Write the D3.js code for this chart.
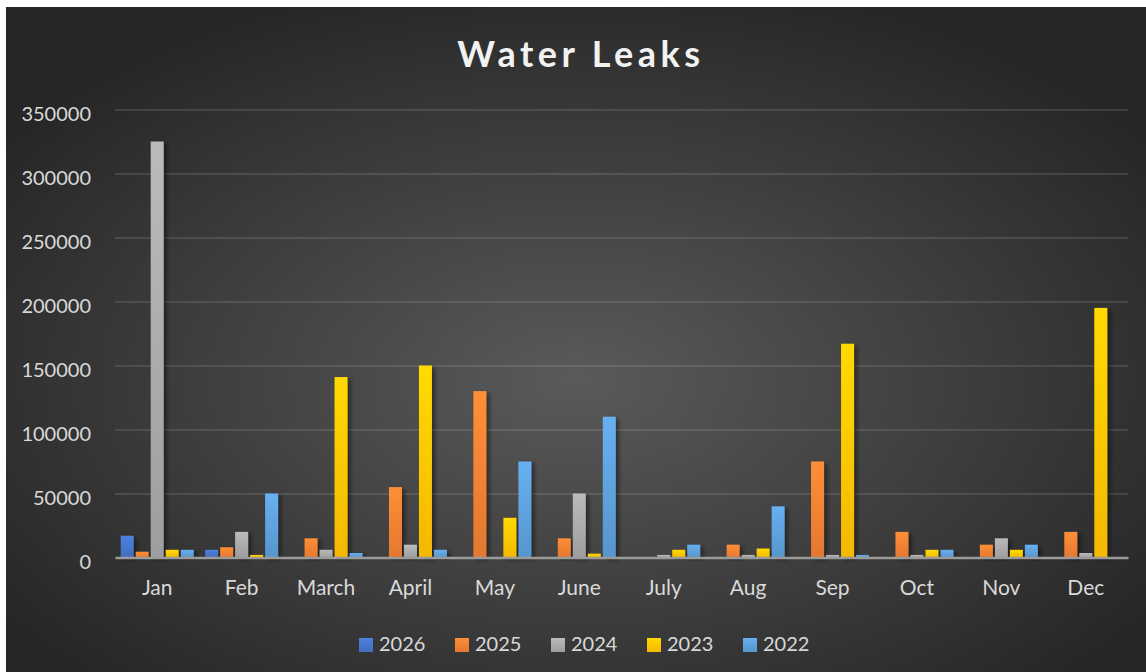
<!DOCTYPE html>
<html>
<head>
<meta charset="utf-8">
<script src="https://cdn.jsdelivr.net/npm/d3@7"></script>
<style>
  html,body{margin:0;padding:0;background:#fff;}
  svg{display:block;}
  text{font-family:Lato,"Open Sans",sans-serif;}
</style>
</head>
<body>
<svg id="chart" width="1146" height="672"></svg>
<script>
/* ---------------- データ ---------------- */
const months = ["Jan","Feb","March","April","May","June","July","Aug","Sep","Oct","Nov","Dec"];
const years  = ["2026","2025","2024","2023","2022"];
const colors = ["#4472C4","#ED7D31","#A5A5A5","#FFC000","#5B9BD5"];
const v2026 = [17000, 6000, 0, 0, 0, 0, 0, 0, 0, 0, 0, 0];
const v2025 = [4500, 8000, 15000, 55000, 130000, 15000, 0, 10000, 75000, 20000, 10000, 20000];
const v2024 = [325000, 20000, 6000, 10000, 0, 50000, 2000, 2000, 2000, 2000, 15000, 3500];
const v2023 = [6000, 2000, 141000, 150000, 31000, 3000, 6000, 7000, 167000, 6000, 6000, 195000];
const v2022 = [6000, 50000, 3500, 6000, 75000, 110000, 10000, 40000, 2000, 6000, 10000, 0];
const yTicks = [0, 50000, 100000, 150000, 200000, 250000, 300000, 350000];
const seriesVals = [v2026, v2025, v2024, v2023, v2022];

/* ---------------- レイアウト ---------------- */
const W = 1146, H = 672;
const plot = {left:115, right:1128, top:109.5, bottom:557.5};
const svg = d3.select("#chart");
const defs = svg.append("defs");

const bg = defs.append("radialGradient").attr("id","bg")
  .attr("cx","50%").attr("cy","56%").attr("r","62%");
bg.append("stop").attr("offset","0%").attr("stop-color","#5a5a5a");
bg.append("stop").attr("offset","100%").attr("stop-color","#262626");

years.forEach((y,i)=>{
  const g = defs.append("linearGradient").attr("id","g"+y)
    .attr("x1",0).attr("y1",0).attr("x2",0).attr("y2",1);
  g.append("stop").attr("offset","0%").attr("stop-color", d3.color(colors[i]).brighter(0.35));
  g.append("stop").attr("offset","100%").attr("stop-color", d3.color(colors[i]).darker(0.12));
});

const sh = defs.append("filter").attr("id","shadow")
  .attr("x","-30%").attr("y","-10%").attr("width","180%").attr("height","130%");
sh.append("feDropShadow").attr("dx",3).attr("dy",2).attr("stdDeviation",2)
  .attr("flood-color","#000").attr("flood-opacity",0.45);

svg.append("rect").attr("x",6).attr("y",7).attr("width",W-6).attr("height",H-7)
  .attr("fill","url(#bg)");

/* ---------------- スケール ---------------- */
const x0 = d3.scaleBand().domain(months).range([plot.left, plot.right]);
const c = x0.bandwidth()/2;
const x1 = d3.scaleBand().domain(years).range([c-36.5, c+36.5]).paddingInner(2/15);
const y = d3.scaleLinear().domain([0,350000]).range([plot.bottom, plot.top]);

/* グリッド + Y軸 */
const yAxis = svg.append("g").attr("transform",`translate(${plot.left},0)`)
  .call(d3.axisLeft(y).tickValues(yTicks).tickFormat(d3.format("d"))
    .tickSize(-(plot.right-plot.left)).tickPadding(24));
yAxis.select(".domain").remove();
yAxis.selectAll("line").attr("stroke","rgba(255,255,255,0.11)").attr("stroke-width",2)
  .filter(d=>d===0).remove();
yAxis.selectAll("text").attr("fill","#d9d9d9").attr("font-size",20)
  .attr("dy","0.55em");

/* ---------------- 棒 ---------------- */
const groups = svg.append("g").selectAll("g").data(months).join("g")
  .attr("transform", d=>`translate(${x0(d)},0)`);
groups.selectAll("rect")
  .data((m,mi)=>years.map((yr,si)=>({yr, v:seriesVals[si][mi]})).filter(d=>d.v>0))
  .join("rect")
  .attr("x", d=>x1(d.yr)).attr("width", x1.bandwidth())
  .attr("y", d=>y(d.v)).attr("height", d=>y(0)-y(d.v))
  .attr("fill", d=>`url(#g${d.yr})`).attr("filter","url(#shadow)");

/* X軸 */
const xAxis = svg.append("g").attr("transform",`translate(0,${plot.bottom})`)
  .call(d3.axisBottom(x0).tickSize(0).tickPadding(23));
xAxis.select(".domain").attr("stroke","#9a9a9a").attr("stroke-width",2.5);
xAxis.selectAll("text").attr("fill","#d9d9d9").attr("font-size",21);

/* タイトル */
svg.append("text").attr("x",581).attr("y",67).attr("text-anchor","middle")
  .attr("fill","#f2f2f2").attr("font-size",36).attr("font-weight",700)
  .attr("letter-spacing",4.5).text("Water Leaks");

/* 凡例 */
const leg = svg.append("g").selectAll("g").data(years).join("g")
  .attr("transform",(d,i)=>`translate(${359+i*96},638)`);
leg.append("rect").attr("width",14).attr("height",14)
  .attr("fill",d=>`url(#g${d})`);
leg.append("text").attr("x",20).attr("y",13).attr("fill","#d9d9d9")
  .attr("font-size",20).text(d=>d);
</script>
</body>
</html>
